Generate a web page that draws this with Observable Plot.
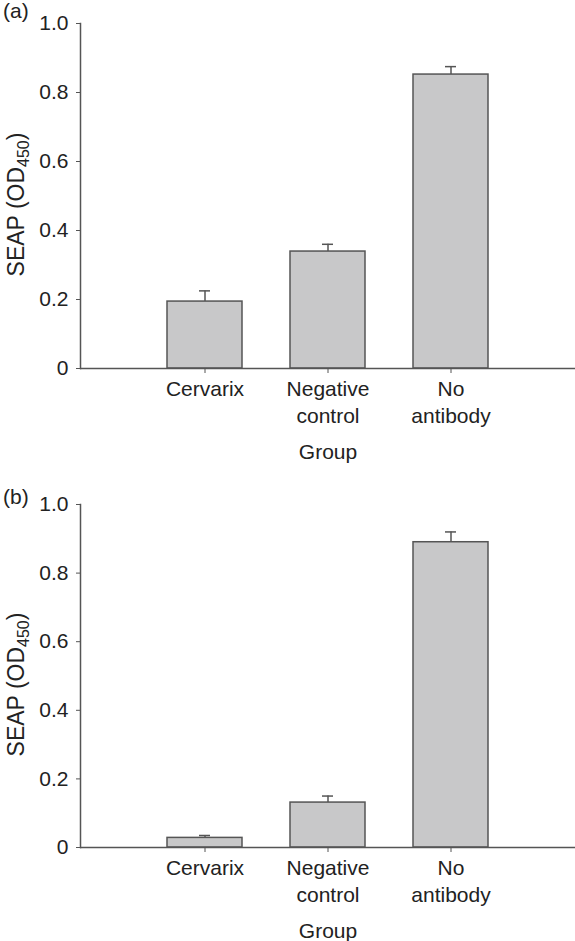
<!DOCTYPE html>
<html>
<head>
<meta charset="utf-8">
<script src="https://cdn.jsdelivr.net/npm/d3@7"></script>
<script src="https://cdn.jsdelivr.net/npm/@observablehq/plot@0.6"></script>
<style>
  html, body { margin: 0; padding: 0; background: #fff; }
  svg { display: block; }
</style>
</head>
<body>
<div id="chart"></div>
<script>
// ---- data ----
const groups = ["Cervarix", "Negative control", "No antibody"];
const groupLabels = ["Cervarix", "Negative\ncontrol", "No\nantibody"];
const meanA = [0.194, 0.339, 0.852];
const errA = [0.031, 0.021, 0.023];
const meanB = [0.028, 0.131, 0.890];
const errB = [0.007, 0.019, 0.030];
const yTicks = [0, 0.2, 0.4, 0.6, 0.8, 1.0];
const panelLetters = ["(a)", "(b)"];
const xTitle = "Group";

const FONT = "'Liberation Sans', Arial, Helvetica, sans-serif";
const TEXT = "#222";
const LINE = "#555";
const BAR = "#c8c8c9";

function makePanel(letter, means, errs, height, marginTop, marginBottom, letterY) {
  const data = groups.map((g, i) => ({group: g, label: groupLabels[i], mean: means[i], err: errs[i]}));
  const svg = Plot.plot({
    width: 575,
    height,
    marginLeft: 80,
    marginRight: 0,
    marginTop,
    marginBottom,
    style: {fontFamily: FONT, fontSize: "21px", color: TEXT, background: "#fff"},
    x: {type: "band", domain: groups, paddingInner: 0.393, paddingOuter: 0.6965, align: 0.5, axis: null},
    y: {domain: [0, 1], axis: null},
    marks: [
      Plot.barY(data, {x: "group", y: "mean", fill: BAR, stroke: LINE, strokeWidth: 1.5}),
      Plot.ruleX(data, {x: "group", y1: "mean", y2: d => d.mean + d.err, stroke: LINE, strokeWidth: 1.5}),
      Plot.tickY(data, {x: "group", y: d => d.mean + d.err, insetLeft: 32, insetRight: 32, stroke: LINE, strokeWidth: 1.5}),
      Plot.ruleY([0], {stroke: LINE, strokeWidth: 1.5}),
      Plot.frame({anchor: "left", stroke: LINE, strokeWidth: 1.5}),
      Plot.axisY({
        ticks: yTicks,
        tickFormat: d => d === 0 ? "0" : d.toFixed(1),
        tickSize: 4,
        tickPadding: 8,
        stroke: LINE,
        fill: TEXT,
        fontSize: 21,
        label: null
      }),
      Plot.axisX({
        tickSize: 5,
        tickFormat: () => "",
        stroke: LINE,
        label: null
      }),
      Plot.text(data, {
        x: "group",
        text: "label",
        frameAnchor: "bottom",
        lineAnchor: "top",
        dy: 9,
        lineHeight: 1.27,
        fontSize: 21,
        fill: TEXT
      }),
      Plot.text([xTitle], {
        text: d => d,
        frameAnchor: "bottom",
        lineAnchor: "middle",
        dy: 84,
        fontSize: 21,
        fill: TEXT
      })
    ]
  });

  const s = d3.select(svg);
  // panel letter
  s.append("text")
    .attr("x", 3)
    .attr("y", letterY)
    .attr("text-anchor", "start")
    .attr("font-family", FONT)
    .attr("font-size", 21)
    .attr("fill", TEXT)
    .text(letter);
  // y-axis title with subscript
  const yMid = (marginTop + (height - marginBottom)) / 2 + 9;
  const t = s.append("text")
    .attr("transform", `translate(24,${yMid}) rotate(-90)`)
    .attr("text-anchor", "middle")
    .attr("font-family", FONT)
    .attr("font-size", 23)
    .attr("fill", TEXT);
  t.append("tspan").text("SEAP (OD");
  t.append("tspan").attr("font-size", 16).attr("dy", 5).text("450");
  t.append("tspan").attr("dy", -5).text(")");
  return svg;
}

const root = document.getElementById("chart");
root.appendChild(makePanel(panelLetters[0], meanA, errA, 470, 23, 102, 18));
root.appendChild(makePanel(panelLetters[1], meanB, errB, 471, 34, 94, 34));
</script>
</body>
</html>
